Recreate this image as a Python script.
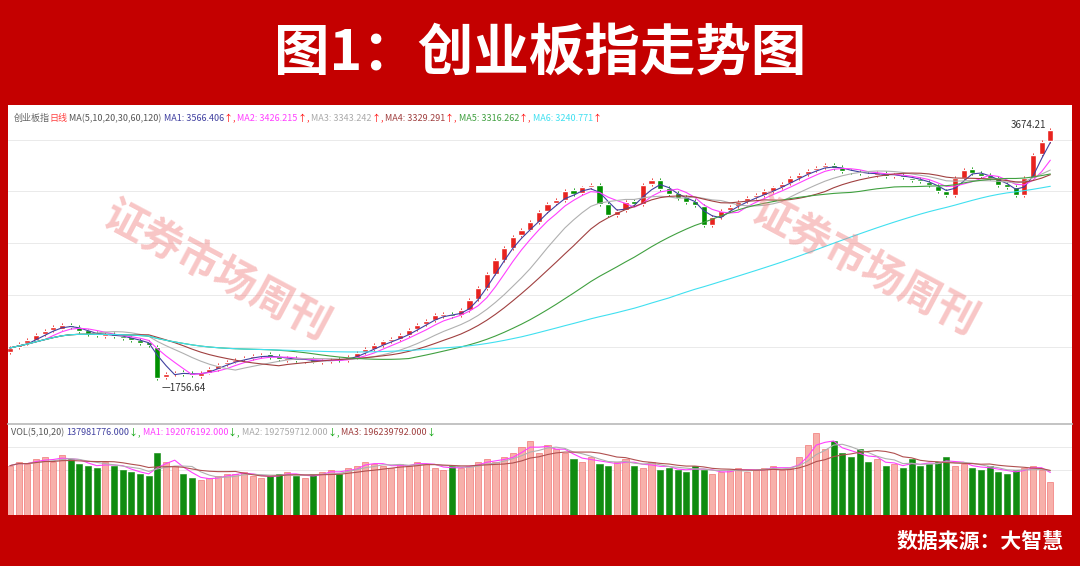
import numpy as np, pandas as pd, matplotlib
matplotlib.use("Agg")
import matplotlib.pyplot as plt, seaborn as sns

closes = [1990,2020,2050,2090,2120,2150,2166,2150,2120,2100,2088,
 2095,2080,2070,2050,2030,2010,1760,1790,1800,1790,1780,1800,
 1830,1860,1880,1900,1910,1925,1934,1920,1905,1910,1895,1900,1885,1890,1900,1895,
 1920,1950,1980,2010,2040,2060,2088,2130,2170,2200,2243,2250,2240,2280,2360,
 2450,2560,2668,2760,2850,2900,2960,3040,3100,3130,3200,3180,3230,3248,3100,3016,
 3050,3120,3100,3250,3286,3220,3180,3150,3120,3094,2939,
 3000,3050,3080,3120,3150,3170,3200,3230,3260,3300,3330,3360,3380,3402,
 3380,3360,3350,3340,3330,3340,3320,3325,3310,3290,3280,3250,3200,3170,3300,3364,
 3340,3320,3300,3250,3230,3170,3300,3480,3580,3674]
opens = [1960,1995,2030,2055,2095,2125,2140,2170,2155,2125,2105,
 2080,2100,2085,2075,2055,2035,2000,1765,1785,1805,1795,1775,
 1800,1830,1865,1885,1905,1910,1925,1940,1925,1900,1915,1890,1905,1880,1890,1905,
 1895,1920,1955,1985,2015,2045,2060,2090,2135,2175,2205,2240,2255,2245,2285,
 2365,2455,2565,2670,2765,2860,2905,2965,3045,3110,3135,3210,3185,3235,3250,3105,
 3020,3055,3125,3105,3255,3290,3225,3185,3155,3125,3090,
 2940,3005,3055,3085,3125,3155,3175,3205,3235,3265,3305,3335,3365,3385,
 3405,3385,3355,3345,3335,3325,3345,3315,3330,3305,3295,3275,3245,3205,3175,3305,
 3370,3345,3325,3305,3255,3235,3175,3305,3485,3590]
volumes = [2.4,2.6,2.5,2.7,2.8,2.6,2.9,2.7,2.5,2.4,2.3,2.6,2.4,2.2,2.1,2.0,
 1.9,3.0,2.6,2.4,2.0,1.8,1.7,1.8,1.9,2.0,
 2.0,2.1,1.9,1.8,1.9,2.0,2.1,1.9,1.8,2.0,2.1,2.2,2.0,2.3,2.4,2.6,2.5,2.4,2.3,2.5,
 2.4,2.6,2.5,2.3,2.2,2.4,2.3,2.4,2.6,2.7,2.6,2.8,3.0,3.3,3.6,
 3.0,3.4,3.2,3.0,2.7,2.6,2.8,2.5,2.4,2.6,2.7,2.4,2.3,2.6,2.2,
 2.3,2.2,2.1,2.4,2.2,2.0,2.1,2.2,2.3,2.1,2.2,2.3,2.4,2.2,2.3,2.8,3.4,4.0,3.2,3.6,
 3.0,2.8,3.2,2.6,2.7,2.4,2.5,2.3,2.7,2.4,2.5,2.6,2.8,2.4,2.5,
 2.3,2.2,2.4,2.1,2.0,2.2,2.3,2.4,2.2,1.6]
ma_windows = [3, 5, 10, 15, 30, 60]   # each candle here spans ~2 trading days
n = min(len(closes), len(opens), len(volumes))
df = pd.DataFrame({"i": np.arange(n), "open": opens[:n], "close": closes[:n], "vol": volumes[:n]})
df["up"] = df.close >= df.open

sns.set_theme(style="white")
plt.rcParams['font.family'] = ['Noto Sans CJK SC', 'DejaVu Sans']
fig = plt.figure(figsize=(10.8, 5.66), dpi=100, facecolor="#c40000")
bg = fig.add_axes([0.0074, 0.09, 0.9852, 0.7245], zorder=-5)
bg.set_facecolor("white"); bg.set_xticks([]); bg.set_yticks([])
for s in bg.spines.values(): s.set_visible(False)
fig.text(0.5, 0.905, "图1：创业板指走势图", color="white", fontsize=40, fontweight="heavy", ha="center", va="center")
fig.text(0.985, 0.044, "数据来源：大智慧", color="white", fontsize=15, fontweight="bold", ha="right", va="center")

ax = fig.add_axes([0.0074, 0.284, 0.9852, 0.49])
axv = fig.add_axes([0.0074, 0.09, 0.9852, 0.16])
for a in (ax, axv):
    a.set_facecolor("none")
    a.set_xlim(-0.23, 122.5)
    a.set_xticks([]); a.set_yticks([])
    for s in a.spines.values(): s.set_visible(False)
ax.set_ylim(1547, 3690)
for yv in [2000, 2400, 2800, 3200, 3600]:
    ax.axhline(yv, color="#e6e6e6", lw=0.6, zorder=0)
axv.spines["top"].set_visible(True); axv.spines["top"].set_color("#bbbbbb")

body_b = np.minimum(df.open, df.close)
body_h = np.maximum(np.abs(df.close - df.open), 6)
cols = np.where(df.up, "#e8231f", "#009000")
ax.bar(df.i, body_h, bottom=body_b, width=0.7, color=cols, zorder=3)
ax.vlines(df.i, body_b - 15, body_b + body_h + 15, color=cols, lw=0.7, zorder=2)

ma_cols = ["#4040a0", "#ff40ff", "#b0b0b0", "#a04040", "#40a040", "#40e0f0"]
for w, c in zip(ma_windows, ma_cols):
    d = pd.DataFrame({"i": df.i, "v": df.close.rolling(w, min_periods=1).mean()})
    sns.lineplot(data=d, x="i", y="v", ax=ax, color=c, lw=0.8, zorder=4)
ax.set_xlabel(""); ax.set_ylabel("")

def header(a, y, parts, x0):
    for t, c in parts:
        tt = a.text(x0, y, t, color=c, fontsize=6.5, transform=a.transAxes)
        fig.canvas.draw()
        x0 += tt.get_window_extent().width / a.get_window_extent().width

header(ax, 1.025, [("创业板指", "#666666"), ("日线", "#ff4040"), (" MA(5,10,20,30,60,120) ", "#555555"),
       ("MA1: 3566.406", "#4040a0"), ("↑, ", "#ff0000"),
       ("MA2: 3426.215", "#ff40ff"), ("↑, ", "#ff0000"), ("MA3: 3343.242", "#aaaaaa"), ("↑, ", "#ff0000"),
       ("MA4: 3329.291", "#a04040"), ("↑, ", "#ff0000"), ("MA5: 3316.262", "#40a040"), ("↑, ", "#ff0000"),
       ("MA6: 3240.771", "#40e0f0"), ("↑", "#ff0000")], 0.005)
imax = int(df.close.idxmax()); imin = int(df.close.idxmin())
ax.text(imax - 0.5, 3675, "3674.21", fontsize=7, color="#333333", ha="right", va="bottom")
ax.text(imin + 0.5, 1720, "—1756.64", fontsize=7, color="#333333", ha="left", va="top")

vcol = np.where(df.up, "#f7b0aa", "#108c10")
ecol = np.where(df.up, "#f06060", "#108c10")
axv.bar(df.i, df.vol, width=0.7, color=vcol, edgecolor=ecol, lw=0.4)
for w, c in zip([3, 5, 10], ["#ff40ff", "#b0b0b0", "#b05050"]):
    d = pd.DataFrame({"i": df.i, "v": df.vol.rolling(w, min_periods=1).mean()})
    sns.lineplot(data=d, x="i", y="v", ax=axv, color=c, lw=0.8)
axv.set_xlabel(""); axv.set_ylabel("")
axv.set_ylim(0, 4.4)
for yv in [2.2, 3.3]:
    axv.axhline(yv, color="#e6e6e6", lw=0.6, zorder=0)
header(axv, 0.88, [("VOL(5,10,20) ", "#555555"), ("137981776.000", "#4040a0"), ("↓, ", "#00a000"), ("MA1: 192076192.000", "#ff40ff"),
      ("↓, ", "#00a000"), ("MA2: 192759712.000", "#aaaaaa"), ("↓, ", "#00a000"), ("MA3: 196239792.000", "#a04040"), ("↓", "#00a000")], 0.003)

for (fx, fy) in [(0.20, 0.52), (0.80, 0.53)]:
    fig.text(fx, fy, "证券市场周刊", fontsize=30, fontweight="bold", color="#f08080", alpha=0.45,
             rotation=-28, ha="center", va="center")
fig.savefig("out.png", dpi=100, facecolor=fig.get_facecolor())
